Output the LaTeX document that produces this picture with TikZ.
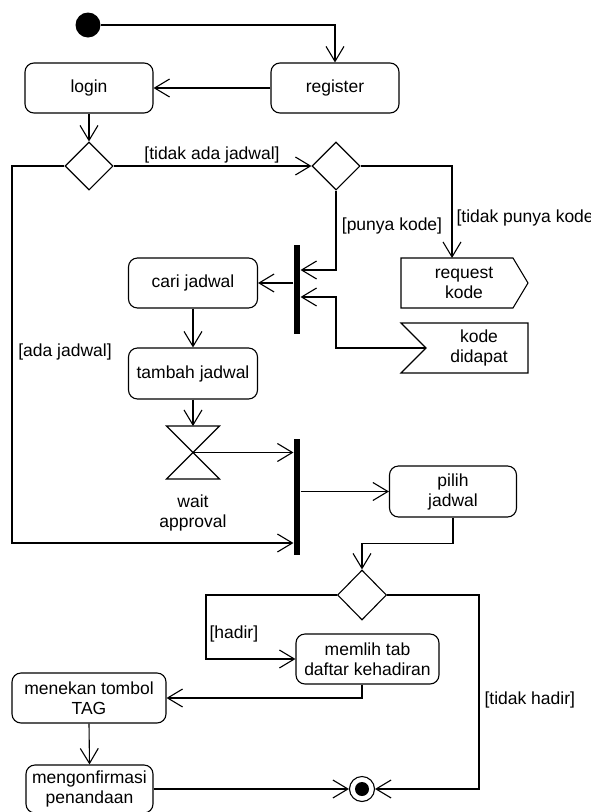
\documentclass[tikz,border=0pt]{standalone}
\usepackage{fontspec}
\setmainfont{Liberation Sans}
\usetikzlibrary{arrows.meta,shapes.geometric}
\begin{document}
\begin{tikzpicture}[x=1pt,y=-1pt,
  font=\fontsize{17.5}{20}\selectfont,
  every node/.style={inner sep=0pt},
  line width=1.1pt,
  flow/.style={-{Straight Barb[length=15pt,width=18pt,line width=1.1pt]}},
  act/.style={draw, rounded corners=9pt, align=center, minimum height=50pt},
  choice/.style={draw, diamond, minimum width=48pt, minimum height=48pt},
  bar/.style={fill=black, minimum width=6pt}]
\useasboundingbox (0,0) rectangle (591,812);

% initial node and first actions
\node[circle, fill=black, minimum size=25pt] (start) at (88,25) {};
\node[act, minimum width=128pt] (login) at (89,88) {login};
\node[act, minimum width=128pt] (register) at (335,88) {register};

% decisions after login
\node[choice] (d1) at (89,166) {};
\node[choice] (d2) at (336,166) {};

% fork before searching the schedule
\node[bar, minimum height=89pt] (fork1) at (297,289.5) {};
\node[act, minimum width=129pt] (cari) at (193,283) {cari jadwal};
\node[act, minimum width=129pt, minimum height=51pt] (tambah) at (193,373.5) {tambah jadwal};

% send signal: request kode
\draw (401,258) -- (513,258) -- (528,283) -- (513,308) -- (401,308) -- cycle;
\node[align=center] (req) at (464,283) {request\\kode};
\coordinate (reqTop) at (452,258);

% accept signal: kode didapat
\draw (401,323) -- (528,323) -- (528,373) -- (401,373) -- (426,348) -- cycle;
\node[align=center] (kode) at (479,348) {kode\\didapat};
\coordinate (kodeIn) at (426,348);

% time event: wait approval
\coordinate (wait) at (193,452.5);
\coordinate (waitTop) at (193,426);
\draw (166.5,426) -- (219.5,426) -- (wait) -- cycle;
\draw (wait) -- (166.5,479) -- (219.5,479) -- cycle;
\node[align=center] (waitlbl) at (193,513) {wait\\approval};

% join and schedule choice
\node[bar, minimum height=116pt] (join) at (297,497) {};
\node[act, minimum width=127pt, minimum height=51pt] (pilih) at (453,491.5) {pilih\\jadwal};
\node[choice, minimum width=49pt, minimum height=50pt] (d3) at (362,595) {};
\node[act, minimum width=143pt] (memlih) at (367.5,659) {memlih tab\\daftar kehadiran};
\node[act, minimum width=154pt] (menekan) at (89,698) {menekan tombol\\TAG};
\node[act, minimum width=127pt, minimum height=48pt] (konfirm) at (89.5,789) {mengonfirmasi\\penandaan};

% final node
\node[circle, draw, minimum size=25pt] (end) at (362,789) {};
\node[circle, fill=black, minimum size=14pt] (endDot) at (end) {};

% guards
\node (gTAJ) at (212,155) {[tidak ada jadwal]};
\node[anchor=west] (gTPK) at (456,218) {[tidak punya kode]};
\node (gPK) at (392,226) {[punya kode]};
\node (gAJ) at (65,352) {[ada jadwal]};
\node[anchor=west] (gH) at (209,634) {[hadir]};
\node[anchor=west] (gTH) at (484,700) {[tidak hadir]};

% control flows
\draw[flow] (start.east) -| (register.north);
\draw[flow] (register.west) -- (login.east);
\draw[flow] (login.south) -- (d1.north);
\draw[flow] (d1.east) -- (d2.west);
\draw[flow] (d2.east) -| (reqTop);
\draw[flow] (d2.south) |- ([yshift=19.5pt]fork1.east);
\draw[flow] (kodeIn) -- (336,348) |- ([yshift=-7.5pt]fork1.east);
\draw[flow] (fork1.west |- cari.east) -- (cari.east);
\draw[flow] (cari.south) -- (tambah.north);
\draw[flow] (tambah.south) -- (waitTop);
\draw[flow] (wait) -- (wait -| join.west);
\draw[flow] (d1.west) -| (12,543) -- (join.west |- 0,543);
\draw[flow] (join.east |- pilih.west) -- (pilih.west);
\draw[flow] (pilih.south) -- ++(0,26) -| (d3.north);
\draw[flow] (d3.west) -| (206,659) -- (memlih.west);
\draw[flow] (d3 |- memlih.south) |- (menekan.east);
\draw[flow] (menekan.south) -- (konfirm.north);
\draw[flow] (konfirm.east) -- (end.west);
\draw[flow] (d3.east) -| (479,789) -- (end.east);
\end{tikzpicture}
\end{document}
